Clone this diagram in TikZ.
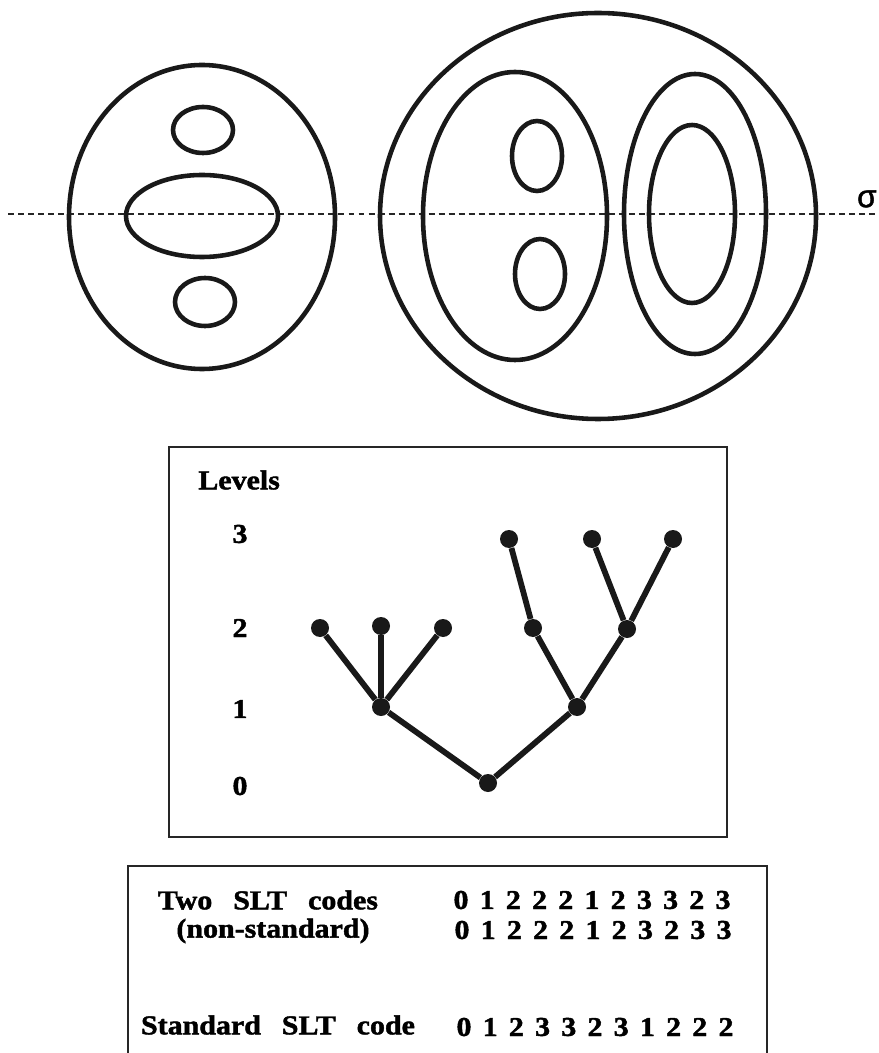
\documentclass[tikz,border=0pt]{standalone}
\usepackage{fontspec}
\setmainfont{Liberation Serif}
\newfontfamily\figfont[FakeStretch=1.1, FakeBold=1.6, WordSpace=2.8]{Liberation Serif}
\newfontfamily\sigfont[FakeBold=1.5]{Liberation Sans}

\begin{document}
\begin{tikzpicture}[x=0.02cm, y=-0.02cm,
      every node/.append style={font=\figfont\bfseries\fontsize{15.5}{17}\selectfont, inner sep=0pt},
      ring/.style={draw=black!90, line width=2.6pt},
      cut/.style={black!85, line width=0.85pt, dash pattern=on 3.4pt off 2.3pt},
      dot/.style={circle, fill=black!90, minimum size=0.36cm, inner sep=0pt},
      branch/.style={black!90, line width=3.3pt},
      frame/.style={draw=black!85, line width=1.1pt}]
    \useasboundingbox (0,0) rectangle (878,1053);

    % ---------------- contour regions and the cutting line ----------------
    \coordinate (cut-l) at (8,214);
    \coordinate (cut-r) at (878,214);
    \draw[cut] (cut-l) -- (cut-r);
    \node[font=\sigfont\fontsize{18}{20}\selectfont, anchor=east] (sig) at (877,199) {σ};

    % left region: one ellipse holding three islands
    \draw[ring] (202,217) ellipse [x radius=133, y radius=152];
    \draw[ring] (203,130) ellipse [x radius=30, y radius=23];
    \draw[ring] (202,216) ellipse [x radius=76, y radius=41];
    \draw[ring] (205,302) ellipse [x radius=30, y radius=24];

    % right region: nested ellipses
    \draw[ring] (598,216) ellipse [x radius=218, y radius=203];
    \draw[ring] (515,216) ellipse [x radius=92, y radius=144];
    \draw[ring] (537,156) ellipse [x radius=25, y radius=35];
    \draw[ring] (540,274) ellipse [x radius=25, y radius=35];
    \draw[ring] (695,214) ellipse [x radius=71, y radius=140];
    \draw[ring] (692,214) ellipse [x radius=43, y radius=89];

    % ---------------- tree of levels ----------------
    \draw[frame] (169,447) rectangle (727,837);
    \node[anchor=west] (lev) at (198,480) {Levels};
    \foreach \l/\y in {3/534, 2/628, 1/709, 0/786}
      \node (lv\l) at (240,\y) {\l};

    \node[dot] (r)   at (488,783) {};
    \node[dot] (a)   at (381,707) {};
    \node[dot] (b)   at (577,707) {};
    \node[dot] (a1)  at (320,628) {};
    \node[dot] (a2)  at (381,626) {};
    \node[dot] (a3)  at (443,628) {};
    \node[dot] (b1)  at (533,628) {};
    \node[dot] (b2)  at (627,629) {};
    \node[dot] (b11) at (509,539) {};
    \node[dot] (b21) at (592,539) {};
    \node[dot] (b22) at (673,539) {};
    \foreach \p/\c in {r/a, r/b, a/a1, a/a2, a/a3, b/b1, b/b2, b1/b11, b2/b21, b2/b22}
      \draw[branch] (\p) -- (\c);

    % ---------------- codes ----------------
    \draw[frame] (128,1060) -- (128,866) -- (767,866) -- (767,1060);
    \node (two) at (268,900) {Two SLT codes};
    \node (nons) at (273,931) {(non-standard)};
    \node (std) at (278,1025) {Standard SLT code};
    \foreach \d [count=\i from 0] in {0,1,2,2,2,1,2,3,3,2,3}
      \node (ca-\i) at (461+26.2*\i,900) {\d};
    \foreach \d [count=\i from 0] in {0,1,2,2,2,1,2,3,2,3,3}
      \node (cb-\i) at (462+26.2*\i,930) {\d};
    \foreach \d [count=\i from 0] in {0,1,2,3,3,2,3,1,2,2,2}
      \node (cs-\i) at (464+26.2*\i,1027) {\d};
  \end{tikzpicture}
\end{document}
